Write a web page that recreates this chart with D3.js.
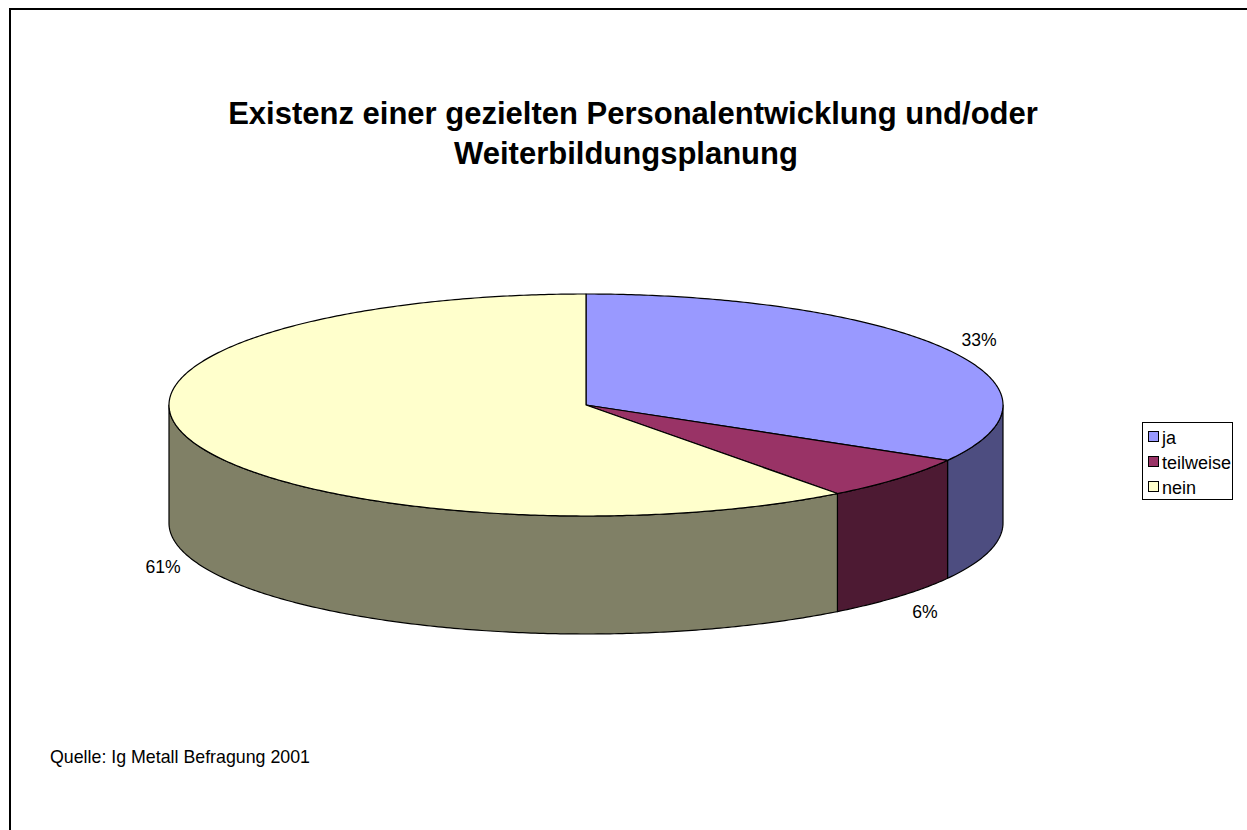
<!DOCTYPE html>
<html>
<head>
<meta charset="utf-8">
<script src="https://cdn.jsdelivr.net/npm/d3@7"></script>
<style>
  html, body { margin: 0; padding: 0; background: #fff; }
  svg { display: block; }
  text { font-family: "Liberation Sans", Arial, sans-serif; fill: #000; }
</style>
</head>
<body>
<div id="chart"></div>
<script>
const categories = ['ja', 'teilweise', 'nein'];
const values = [33.3, 6.4, 60.3];
const valueLabels = ['33%', '6%', '61%'];
const topColors = ['#9999ff', '#993366', '#ffffcc'];
const sideColors = ['#4d4d80', '#4d1a33', '#808066'];
const titleLines = ['Existenz einer gezielten Personalentwicklung und/oder', 'Weiterbildungsplanung'];
const sourceNote = 'Quelle: Ig Metall Befragung 2001';

const width = 1247, height = 830;
const cx = 586, cy = 405, rx = 417, ry = 111, depth = 118;

const svg = d3.select('#chart').append('svg')
  .attr('width', width)
  .attr('height', height);

// outer frame, only top and left are inside the picture
svg.append('path')
  .attr('d', 'M10,830V9H1247')
  .attr('fill', 'none')
  .attr('stroke', '#000')
  .attr('stroke-width', 2);

// second line sits a bit left of the first in the original
const titleX = [633, 626];
svg.selectAll('.title')
  .data(titleLines)
  .join('text')
  .attr('class', 'title')
  .attr('x', (_, i) => titleX[i])
  .attr('y', (_, i) => 124 + i * 39.5)
  .attr('text-anchor', 'middle')
  .attr('font-size', 31)
  .attr('font-weight', 'bold')
  .text(d => d);

const arcs = d3.pie().sort(null).value(d => d)(values);

// angle is clockwise from 12 o'clock, same as d3.pie
const px = a => cx + rx * Math.sin(a);
const py = a => cy - ry * Math.cos(a);
const line = d3.line().x(d => d[0]).y(d => d[1]);

function rimPoints(a0, a1, dy = 0) {
  const n = Math.max(2, Math.ceil((a1 - a0) / 0.01));
  return d3.range(n + 1).map(i => {
    const a = a0 + (a1 - a0) * i / n;
    return [px(a), py(a) + dy];
  });
}

// side walls, only the front half of the disc shows
const frontStart = Math.PI / 2, frontEnd = Math.PI * 1.5;
svg.selectAll('.side')
  .data(arcs.filter(d => d.endAngle > frontStart && d.startAngle < frontEnd))
  .join('path')
  .attr('class', 'side')
  .attr('d', d => {
    const a0 = Math.max(d.startAngle, frontStart);
    const a1 = Math.min(d.endAngle, frontEnd);
    return line([...rimPoints(a0, a1), ...rimPoints(a0, a1, depth).reverse()]) + 'Z';
  })
  .attr('fill', d => sideColors[d.index])
  .attr('stroke', '#000')
  .attr('stroke-width', 1.2)
  .attr('stroke-linejoin', 'round');

svg.selectAll('.slice')
  .data(arcs)
  .join('path')
  .attr('class', 'slice')
  .attr('d', d => line([[cx, cy], ...rimPoints(d.startAngle, d.endAngle)]) + 'Z')
  .attr('fill', d => topColors[d.index])
  .attr('stroke', '#000')
  .attr('stroke-width', 1.2)
  .attr('stroke-linejoin', 'round');

const labelPos = [[979, 346], [925, 618], [163, 573]];
svg.selectAll('.pct')
  .data(valueLabels)
  .join('text')
  .attr('class', 'pct')
  .attr('x', (_, i) => labelPos[i][0])
  .attr('y', (_, i) => labelPos[i][1])
  .attr('text-anchor', 'middle')
  .attr('font-size', 17.6)
  .text(d => d);

// legend
const legend = svg.append('g');
legend.append('rect')
  .attr('x', 1142.5).attr('y', 422.5)
  .attr('width', 90).attr('height', 77)
  .attr('fill', '#fff')
  .attr('stroke', '#000');

const legendY = d3.scalePoint().domain(categories).range([437, 487]);
const items = legend.selectAll('.item')
  .data(categories)
  .join('g')
  .attr('class', 'item')
  .attr('transform', d => `translate(0,${legendY(d)})`);
items.append('rect')
  .attr('x', 1148.5).attr('y', -5.5)
  .attr('width', 10).attr('height', 10)
  .attr('fill', (_, i) => topColors[i])
  .attr('stroke', '#000');
items.append('text')
  .attr('x', 1162)
  .attr('y', 7)
  .attr('font-size', 18)
  .text(d => d);

svg.append('text')
  .attr('x', 50)
  .attr('y', 763)
  .attr('font-size', 17.8)
  .text(sourceNote);
</script>
</body>
</html>
